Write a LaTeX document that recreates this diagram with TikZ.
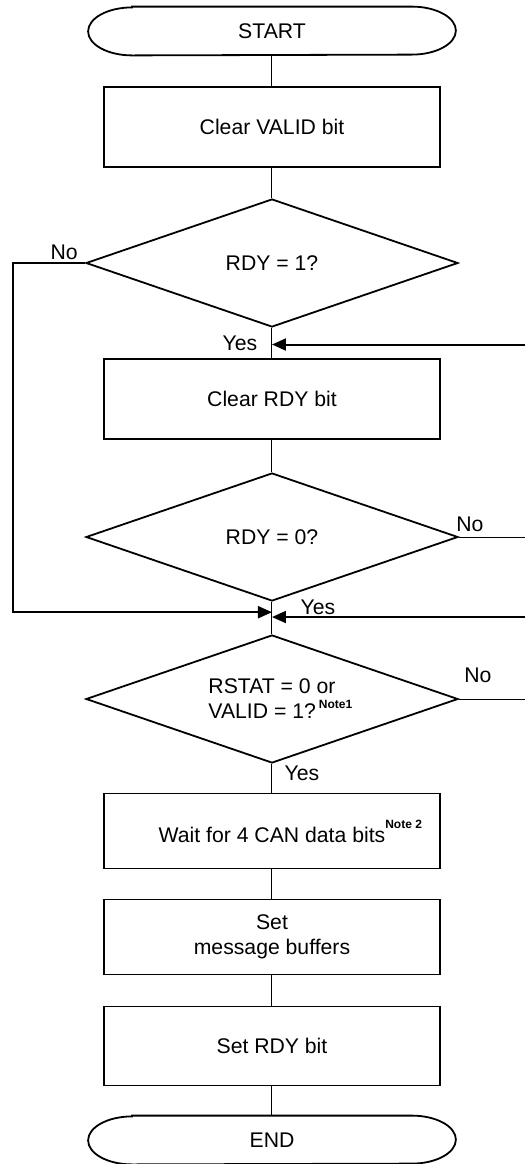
\documentclass[tikz,border=0pt]{standalone}
\usepackage{fontspec}
\setmainfont{Liberation Sans}
\usepackage{tikz}
\usetikzlibrary{shapes, arrows.meta, positioning, calc}
\tikzset{
    % Flowchart Styles
    startstop/.style={rectangle, minimum width=183.5pt, minimum height=24pt, text centered},
    termline/.style={line width=0.9pt},
    process/.style={rectangle, draw, line width=0.9pt, minimum width=168pt,
        minimum height=40pt, align=center},
    decision/.style={diamond, draw, line width=0.9pt, aspect=2.9, inner sep=0pt,
        minimum width=186pt, minimum height=64pt, align=left},
    lbl/.style={inner sep=0pt},
    line/.style={draw, line width=0.5pt},
    arrow/.style={line width=1pt, ->, >={Triangle[length=7pt, width=6pt]}}
}
\newcommand{\notesup}[3]{\rlap{\hspace{#1}\raisebox{#2}{\fontsize{6pt}{7pt}\selectfont\bfseries #3}}}

\begin{document}
\begin{tikzpicture}[node distance=68pt, every node/.style={font=\fontsize{10.6pt}{12.5pt}\selectfont}]
        \useasboundingbox (-136pt,15.5pt) rectangle (126.5pt,-566.5pt);
        \coordinate (ledge) at (-129.5pt,0);
        \coordinate (redge) at (126.5pt,0);

        \node (start) [startstop] at (0,0) {START};
        \node (valid) [process, below of=start, yshift=20pt] {Clear VALID bit};
        \node (rdy1) [decision, below of=valid] {RDY = 1?};
        \node (clrrdy) [process, below of=rdy1] {Clear RDY bit};
        \node (rdy0) [decision, below of=clrrdy, yshift=-1pt] {RDY = 0?};
        \node (rstat) [decision, below of=rdy0, yshift=-13pt] {RSTAT = 0 or\\VALID = 1?\notesup{1.5pt}{5pt}{Note1}};
        \node (wait) [process, below of=rstat, yshift=2pt, minimum height=37.5pt] {Wait for 4 CAN data bits\notesup{0pt}{7pt}{Note 2}};
        \node (setbuf) [process, below of=wait, yshift=15pt, minimum height=37.5pt] {Set\\message buffers};
        \node (setrdy) [process, below of=setbuf, yshift=13.5pt, minimum height=39.5pt] {Set RDY bit};
        \node (stop) [startstop, below of=setrdy, yshift=21pt] {END};

        % terminal outlines
        \foreach \t in {start, stop}
            \draw [termline] ([xshift=22pt]\t.north west) -- ([xshift=-22pt]\t.north east)
                arc [start angle=90, end angle=-90, x radius=22pt, y radius=12pt]
                -- ([xshift=22pt]\t.south west)
                arc [start angle=270, end angle=90, x radius=22pt, y radius=12pt] -- cycle;

        % junctions
        \coordinate (j1) at ($(rdy1.south)!0.55!(clrrdy.north)$);
        \coordinate (j2l) at ($(rdy0.south)!0.32!(rstat.north)$);
        \coordinate (j2r) at ($(rdy0.south)!0.47!(rstat.north)$);

        % labels
        \node (no1) [lbl] at ([shift={(-10.5pt,5.5pt)}]rdy1.west) {No};
        \node (yes1) [lbl] at ([shift={(-16pt,-7.5pt)}]rdy1.south) {Yes};
        \node (no2) [lbl] at ([shift={(5.5pt,6.5pt)}]rdy0.east) {No};
        \node (yes2) [lbl] at ([shift={(23pt,-2.5pt)}]rdy0.south) {Yes};
        \node (no3) [lbl] at ([shift={(9.5pt,12pt)}]rstat.east) {No};
        \node (yes3) [lbl] at ([shift={(15pt,-4.5pt)}]rstat.south) {Yes};

        \draw [line] (start) -- (valid);
        \draw [line] (valid) -- (rdy1);
        \draw [line] (rdy1) -- (clrrdy);
        \draw [line] (clrrdy) -- (rdy0);
        \draw [line] (rdy0) -- (rstat);
        \draw [line] (rstat) -- (wait);
        \draw [line] (wait) -- (setbuf);
        \draw [line] (setbuf) -- (setrdy);
        \draw [line] (setrdy) -- (stop);

        \draw [arrow] (rdy1.west) -- (rdy1.west -| ledge) |- (j2l);
        \draw [arrow] (redge |- j1) -- (j1);
        \draw [arrow] (redge |- j2r) -- (j2r);
        \draw [line] (rdy0.east) -- (rdy0.east -| redge);
        \draw [line] (rstat.east) -- (rstat.east -| redge);
    \end{tikzpicture}
\end{document}
